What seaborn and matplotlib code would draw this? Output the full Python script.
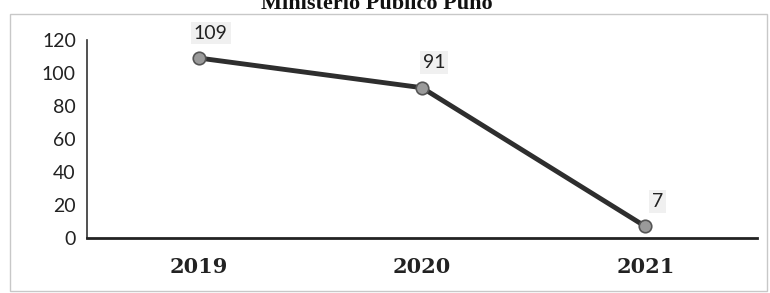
import matplotlib
matplotlib.use("Agg")
import matplotlib.pyplot as plt
import matplotlib.patches as mpatches
import seaborn as sns
import pandas as pd

# datos del grafico
years = ["2019", "2020", "2021"]
cases = [109, 91, 7]
y_ticks = [0, 20, 40, 60, 80, 100, 120]
title = "Ministerio Publico Puno"

df = pd.DataFrame({"year": years, "cases": cases})

sns.set_theme(style="white")
plt.rcParams["font.family"] = ["Lato", "DejaVu Sans"]

fig = plt.figure(figsize=(7.7, 2.93), dpi=100)
ax = fig.add_axes([0.113, 0.188, 0.870, 0.676])

sns.lineplot(data=df, x="year", y="cases", ax=ax, color="#2e2e2e", linewidth=3.5,
             marker="o", markersize=9, markerfacecolor="#9a9a9a",
             markeredgecolor="#555555", markeredgewidth=1.2, sort=False)

# etiquetas de datos
for i, v in enumerate(cases):
    ax.annotate(str(v), xy=(i, v), xytext=(12, 25), textcoords="offset pixels",
                ha="center", va="center", fontsize=14, color="#222222",
                bbox=dict(boxstyle="square,pad=0.15", fc="#f0f0f0", ec="none"))

ax.set_xlim(-0.5, 2.5)
ax.set_ylim(0, 120)
ax.set_yticks(y_ticks)
ax.set_xlabel("")
ax.set_ylabel("")
ax.tick_params(axis="y", labelsize=14, length=0, pad=8, colors="#222222")
ax.tick_params(axis="x", length=0, pad=14)
for lbl in ax.get_xticklabels():
    lbl.set_fontfamily("DejaVu Serif")
    lbl.set_fontweight("bold")
    lbl.set_fontsize(15)
    lbl.set_color("#222222")

sns.despine(ax=ax, top=True, right=True)
ax.spines["left"].set_color("#333333")
ax.spines["left"].set_linewidth(1.2)
ax.spines["bottom"].set_color("#222222")
ax.spines["bottom"].set_linewidth(2)

# marco del grafico
frame = mpatches.Rectangle((10 / 770, 2 / 293), 757 / 770, 277 / 293,
                           transform=fig.transFigure, fill=False,
                           ec="#c8c8c8", lw=1)
fig.add_artist(frame)

fig.text(0.49, 1 - 9 / 293, title, ha="center", va="baseline",
         fontsize=16, fontweight="bold", family="Liberation Serif", color="#111111")

fig.savefig("out.png", dpi=100)
